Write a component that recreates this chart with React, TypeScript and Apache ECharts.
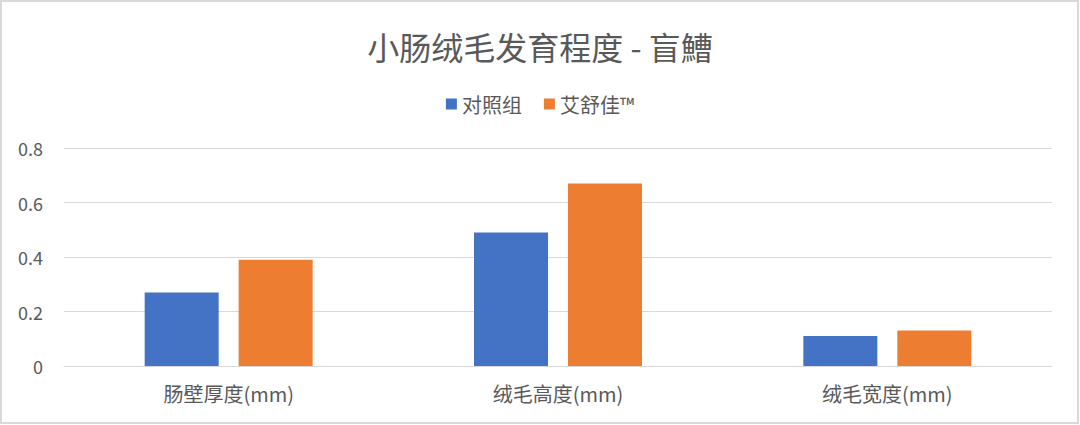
import React, { useEffect, useRef } from "react";
import * as echarts from "echarts";

const categories = ["肠壁厚度(mm)", "绒毛高度(mm)", "绒毛宽度(mm)"];
const controlValues = [0.27, 0.49, 0.11];
const treatedValues = [0.39, 0.67, 0.13];
const seriesNames = ["对照组", "艾舒佳™"];
const titleText = "小肠绒毛发育程度 - 盲鰽";

const FONT = "'Noto Sans CJK SC', 'Noto Sans', sans-serif";
const TEXT_COLOR = "#595959";

export default function App() {
  const ref = useRef<HTMLDivElement>(null);

  useEffect(() => {
    document.body.style.margin = "0";
    if (!ref.current) return;
    const chart = echarts.init(ref.current, undefined, { renderer: "svg" });
    chart.setOption({
      animation: false,
      backgroundColor: "#ffffff",
      textStyle: { fontFamily: FONT },
      title: {
        text: titleText,
        left: "center",
        top: 25,
        textStyle: { fontFamily: FONT, fontSize: 32, fontWeight: "normal", color: TEXT_COLOR },
      },
      legend: {
        top: 89,
        left: "center",
        itemWidth: 11,
        itemHeight: 11,
        itemGap: 22,
        icon: "rect",
        textStyle: { fontFamily: FONT, fontSize: 20, color: TEXT_COLOR },
        data: seriesNames,
      },
      graphic: [
        {
          type: "rect",
          shape: { x: 1, y: 1, width: 1077, height: 422 },
          style: { fill: "none", stroke: "#d9d9d9", lineWidth: 2 },
          silent: true,
        },
      ],
      grid: { left: 64, right: 28, top: 148, bottom: 59, containLabel: false },
      xAxis: {
        type: "category",
        data: categories,
        axisLine: { show: true, lineStyle: { color: "#d9d9d9", width: 1 } },
        axisTick: { show: false },
        axisLabel: { fontFamily: FONT, fontSize: 20, color: TEXT_COLOR, margin: 17 },
      },
      yAxis: {
        type: "value",
        min: 0,
        max: 0.8,
        interval: 0.2,
        axisLine: { show: false },
        axisTick: { show: false },
        splitLine: { lineStyle: { color: "#d9d9d9", width: 1 } },
        axisLabel: {
          fontFamily: FONT,
          fontSize: 18,
          color: TEXT_COLOR,
          margin: 21,
          formatter: (v: number) => (v === 0 ? "0" : String(Math.round(v * 10) / 10)),
        },
      },
      series: [
        {
          name: seriesNames[0],
          type: "bar",
          data: controlValues,
          barWidth: 74,
          barGap: "27%",
          itemStyle: { color: "#4472C4" },
        },
        {
          name: seriesNames[1],
          type: "bar",
          data: treatedValues,
          barWidth: 74,
          barGap: "27%",
          itemStyle: { color: "#ED7D31" },
        },
      ],
    });
    return () => chart.dispose();
  }, []);

  return <div ref={ref} style={{ width: 1080, height: 425 }} />;
}
